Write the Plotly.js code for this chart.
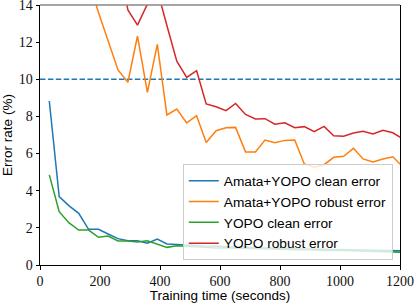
<!DOCTYPE html>
<html>
<head>
<meta charset="utf-8">
<script src="https://cdn.plot.ly/plotly-3.0.1.min.js"></script>
<style>html,body{margin:0;padding:0;background:#fff;}#chart{width:415px;height:303px;}</style>
</head>
<body>
<div id="chart"></div>
<script>
// Training time (seconds) of each evaluation point
const trainingTime = [31, 64, 96, 129, 162, 195, 227, 260, 293, 325, 358, 391, 423, 456, 489, 522, 554, 587, 620, 652, 685, 718, 750, 783, 816, 849, 881, 914, 947, 979, 1012, 1045, 1077, 1110, 1143, 1176, 1208];

const amataClean = [8.83, 3.68, 3.2, 2.78, 1.92, 1.92, 1.67, 1.42, 1.31, 1.31, 1.17, 1.4, 1.13, 1.11,
  1.08, 1.05, 1.0, 1.02, 0.98, 0.95, 0.97, 0.93, 0.92, 0.9, 0.92, 0.88, 0.87, 0.88, 0.85, 0.84, 0.85, 0.82, 0.83, 0.8, 0.81, 0.79, 0.77];

const amataRobust = [35, 26, 21, 17.5, 15.3, 13.6, 12.1, 10.5, 9.84, 12.33, 9.3, 11.88, 8.08, 8.4,
  7.65, 8.04, 6.6, 7.23, 7.39, 7.41, 6.09, 6.09, 6.73, 6.59, 6.71, 6.73, 5.44, 5.26, 5.4, 5.8, 5.85, 6.28, 5.71, 5.55, 5.71, 5.83, 5.31];

const yopoClean = [4.85, 2.87, 2.28, 1.88, 1.88, 1.49, 1.56, 1.29, 1.29, 1.24, 1.31, 1.13, 0.95, 1.04,
  1.0, 0.97, 0.95, 0.92, 0.93, 0.9, 0.88, 0.87, 0.88, 0.85, 0.83, 0.82, 0.84, 0.8, 0.78, 0.79, 0.77, 0.75, 0.76, 0.74, 0.72, 0.71, 0.69];

const yopoRobust = [45, 35, 28, 24, 21, 19, 17.5, 16.7, 13.73, 12.92, 14.05, 14.8, 12.9, 10.98,
  10.1, 10.46, 8.67, 8.52, 8.31, 8.7, 8.11, 7.86, 7.88, 7.58, 7.66, 7.39, 7.45, 7.18, 7.46, 6.96, 6.93, 7.11, 7.2, 7.05, 7.25, 7.12, 6.81];

const seriesNames = ["Amata+YOPO clean error", "Amata+YOPO robust error", "YOPO clean error", "YOPO robust error"];
const seriesColors = ["#1f77b4", "#ff7f0e", "#2ca02c", "#d62728"];
const seriesValues = [amataClean, amataRobust, yopoClean, yopoRobust];

const referenceLevel = [10, 10];
const referenceX = [0, 1200];

const xTicks = [0, 200, 400, 600, 800, 1000, 1200];
const yTicks = [0, 2, 4, 6, 8, 10, 12, 14];

const traces = [{
  x: referenceX, y: referenceLevel, mode: "lines", showlegend: false,
  line: {color: "#1f77b4", width: 1.5, dash: "5.5px,2.4px"}, hoverinfo: "skip"
}];
seriesNames.forEach((name, i) => {
  traces.push({
    x: trainingTime, y: seriesValues[i], mode: "lines", name: name,
    line: {color: seriesColors[i], width: 1.5}
  });
});

const layout = {
  width: 415, height: 303,
  margin: {l: 40, r: 14.5, t: 5, b: 38},
  paper_bgcolor: "#fff", plot_bgcolor: "#fff",
  showlegend: true,
  legend: {
    x: 0.98, xanchor: "right", y: 0.018, yanchor: "bottom",
    bgcolor: "rgba(255,255,255,0.8)", bordercolor: "#cccccc", borderwidth: 1,
    font: {family: "Liberation Sans, Arial, sans-serif", size: 13.7, color: "#000"},
    traceorder: "normal"
  },
  xaxis: {
    range: [0, 1200], tickvals: xTicks, ticktext: xTicks.map(String),
    showgrid: false, zeroline: false, showline: true, linecolor: "#000", linewidth: 1,
    ticks: "outside", ticklen: 3.5, tickcolor: "#000", mirror: false,
    ticklabeloverflow: "allow",
    tickfont: {family: "Liberation Serif, Times New Roman, serif", size: 14, color: "#111"},
    title: {text: "Training time (seconds)", standoff: 4, font: {family: "Liberation Sans, Arial, sans-serif", size: 13.5, color: "#000"}}
  },
  yaxis: {
    range: [0, 14], tickvals: yTicks, ticktext: yTicks.map(String),
    showgrid: false, zeroline: false, showline: true, linecolor: "#000", linewidth: 1,
    ticks: "outside", ticklen: 3.5, tickcolor: "#000", mirror: true,
    ticklabeloverflow: "allow",
    tickfont: {family: "Liberation Serif, Times New Roman, serif", size: 14, color: "#111"},
    title: {text: "Error rate (%)", standoff: 4, font: {family: "Liberation Sans, Arial, sans-serif", size: 13.5, color: "#000"}}
  },
  shapes: [{type: "line", xref: "paper", yref: "paper", x0: 0, x1: 1, y0: 1, y1: 1, line: {color: "#888", width: 1.5}}]
};

Plotly.newPlot("chart", traces, layout, {staticPlot: true, displayModeBar: false});
</script>
</body>
</html>
